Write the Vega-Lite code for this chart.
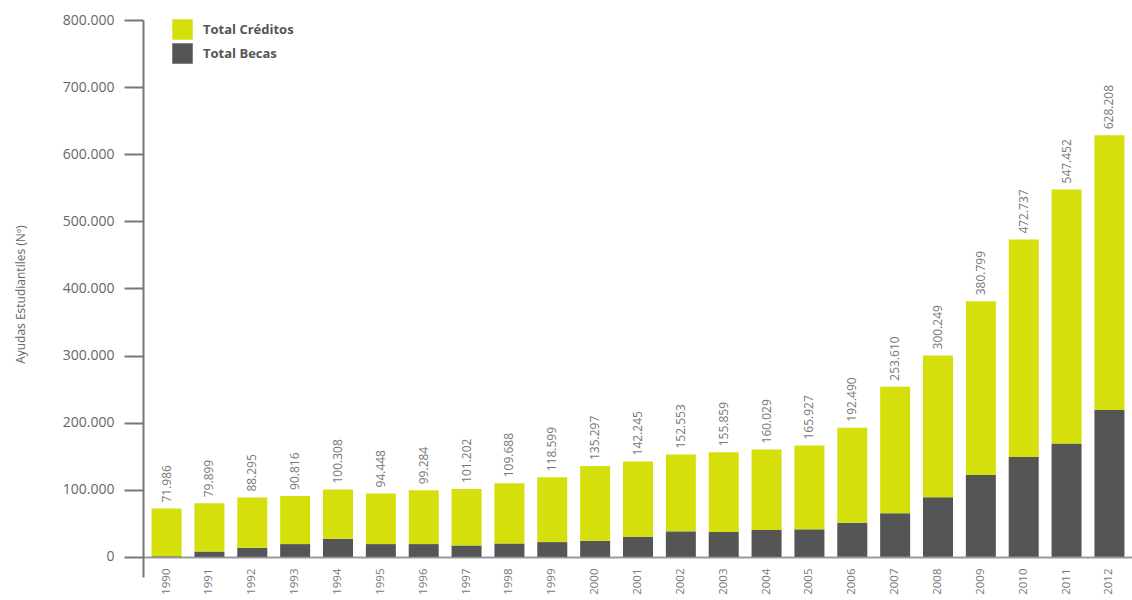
{
  "$schema": "https://vega.github.io/schema/vega-lite/v6.json",
  "width": 990,
  "height": 557,
  "autosize": {"type": "none"},
  "padding": {"left": 143, "top": 20, "right": 0, "bottom": 23},
  "background": "white",
  "config": {
    "locale": {"number": {"decimal": ",", "thousands": ".", "grouping": [3], "currency": ["", " €"]}},
    "view": {"stroke": null},
    "font": "Open Sans"
  },
  "datasets": {
    "ayudas": [
      {"anio": "1990", "serie": "Total Becas", "orden": 1, "valor": 1000},
      {"anio": "1990", "serie": "Total Créditos", "orden": 2, "valor": 70986},
      {"anio": "1991", "serie": "Total Becas", "orden": 1, "valor": 8000},
      {"anio": "1991", "serie": "Total Créditos", "orden": 2, "valor": 71899},
      {"anio": "1992", "serie": "Total Becas", "orden": 1, "valor": 13500},
      {"anio": "1992", "serie": "Total Créditos", "orden": 2, "valor": 74795},
      {"anio": "1993", "serie": "Total Becas", "orden": 1, "valor": 19000},
      {"anio": "1993", "serie": "Total Créditos", "orden": 2, "valor": 71816},
      {"anio": "1994", "serie": "Total Becas", "orden": 1, "valor": 27000},
      {"anio": "1994", "serie": "Total Créditos", "orden": 2, "valor": 73308},
      {"anio": "1995", "serie": "Total Becas", "orden": 1, "valor": 19000},
      {"anio": "1995", "serie": "Total Créditos", "orden": 2, "valor": 75448},
      {"anio": "1996", "serie": "Total Becas", "orden": 1, "valor": 19000},
      {"anio": "1996", "serie": "Total Créditos", "orden": 2, "valor": 80284},
      {"anio": "1997", "serie": "Total Becas", "orden": 1, "valor": 17000},
      {"anio": "1997", "serie": "Total Créditos", "orden": 2, "valor": 84202},
      {"anio": "1998", "serie": "Total Becas", "orden": 1, "valor": 20000},
      {"anio": "1998", "serie": "Total Créditos", "orden": 2, "valor": 89688},
      {"anio": "1999", "serie": "Total Becas", "orden": 1, "valor": 22000},
      {"anio": "1999", "serie": "Total Créditos", "orden": 2, "valor": 96599},
      {"anio": "2000", "serie": "Total Becas", "orden": 1, "valor": 24000},
      {"anio": "2000", "serie": "Total Créditos", "orden": 2, "valor": 111297},
      {"anio": "2001", "serie": "Total Becas", "orden": 1, "valor": 30000},
      {"anio": "2001", "serie": "Total Créditos", "orden": 2, "valor": 112245},
      {"anio": "2002", "serie": "Total Becas", "orden": 1, "valor": 38000},
      {"anio": "2002", "serie": "Total Créditos", "orden": 2, "valor": 114553},
      {"anio": "2003", "serie": "Total Becas", "orden": 1, "valor": 37000},
      {"anio": "2003", "serie": "Total Créditos", "orden": 2, "valor": 118859},
      {"anio": "2004", "serie": "Total Becas", "orden": 1, "valor": 40000},
      {"anio": "2004", "serie": "Total Créditos", "orden": 2, "valor": 120029},
      {"anio": "2005", "serie": "Total Becas", "orden": 1, "valor": 41000},
      {"anio": "2005", "serie": "Total Créditos", "orden": 2, "valor": 124927},
      {"anio": "2006", "serie": "Total Becas", "orden": 1, "valor": 51000},
      {"anio": "2006", "serie": "Total Créditos", "orden": 2, "valor": 141490},
      {"anio": "2007", "serie": "Total Becas", "orden": 1, "valor": 65000},
      {"anio": "2007", "serie": "Total Créditos", "orden": 2, "valor": 188610},
      {"anio": "2008", "serie": "Total Becas", "orden": 1, "valor": 89000},
      {"anio": "2008", "serie": "Total Créditos", "orden": 2, "valor": 211249},
      {"anio": "2009", "serie": "Total Becas", "orden": 1, "valor": 122000},
      {"anio": "2009", "serie": "Total Créditos", "orden": 2, "valor": 258799},
      {"anio": "2010", "serie": "Total Becas", "orden": 1, "valor": 149000},
      {"anio": "2010", "serie": "Total Créditos", "orden": 2, "valor": 323737},
      {"anio": "2011", "serie": "Total Becas", "orden": 1, "valor": 169000},
      {"anio": "2011", "serie": "Total Créditos", "orden": 2, "valor": 378452},
      {"anio": "2012", "serie": "Total Becas", "orden": 1, "valor": 219000},
      {"anio": "2012", "serie": "Total Créditos", "orden": 2, "valor": 409208}
    ],
    "totales": [
      {"anio": "1990", "total": 71986},
      {"anio": "1991", "total": 79899},
      {"anio": "1992", "total": 88295},
      {"anio": "1993", "total": 90816},
      {"anio": "1994", "total": 100308},
      {"anio": "1995", "total": 94448},
      {"anio": "1996", "total": 99284},
      {"anio": "1997", "total": 101202},
      {"anio": "1998", "total": 109688},
      {"anio": "1999", "total": 118599},
      {"anio": "2000", "total": 135297},
      {"anio": "2001", "total": 142245},
      {"anio": "2002", "total": 152553},
      {"anio": "2003", "total": 155859},
      {"anio": "2004", "total": 160029},
      {"anio": "2005", "total": 165927},
      {"anio": "2006", "total": 192490},
      {"anio": "2007", "total": 253610},
      {"anio": "2008", "total": 300249},
      {"anio": "2009", "total": 380799},
      {"anio": "2010", "total": 472737},
      {"anio": "2011", "total": 547452},
      {"anio": "2012", "total": 628208}
    ]
  },
  "encoding": {
    "x": {
      "field": "anio",
      "type": "ordinal",
      "scale": {"paddingInner": 0.3, "paddingOuter": 0.2},
      "axis": {
        "title": null,
        "labelAngle": -90,
        "labelFontSize": 11.5,
        "labelColor": "#777777",
        "labelPadding": 11,
        "ticks": false,
        "domainColor": "#999999",
        "domainWidth": 2,
        "offset": -20
      }
    }
  },
  "layer": [
    {
      "data": {"name": "ayudas"},
      "mark": {"type": "bar"},
      "encoding": {
        "y": {
          "field": "valor",
          "type": "quantitative",
          "stack": "zero",
          "scale": {"domain": [-30000, 800000], "nice": false, "zero": false},
          "axis": {
            "title": "Ayudas Estudiantiles (Nº)",
            "titleFontSize": 12,
            "titleFontWeight": "normal",
            "titleColor": "#666666",
            "titleX": -123,
            "titleY": 274,
            "titleBaseline": "middle",
            "values": [0, 100000, 200000, 300000, 400000, 500000, 600000, 700000, 800000],
            "format": ",d",
            "grid": false,
            "labelFontSize": 14,
            "labelColor": "#666666",
            "labelPadding": 10,
            "tickSize": 19,
            "tickWidth": 2,
            "tickColor": "#777777",
            "domainColor": "#777777",
            "domainWidth": 2
          }
        },
        "color": {
          "field": "serie",
          "type": "nominal",
          "scale": {"domain": ["Total Créditos", "Total Becas"], "range": ["#d5df0c", "#555555"]},
          "legend": {
            "title": null,
            "orient": "none",
            "legendX": 29,
            "legendY": -1,
            "symbolType": "square",
            "symbolSize": 420,
            "symbolStrokeWidth": 0,
            "labelFontSize": 13,
            "labelFontWeight": "bold",
            "labelColor": "#555555",
            "rowPadding": 3,
            "labelOffset": 10
          }
        },
        "order": {"field": "orden", "type": "quantitative"}
      }
    },
    {
      "data": {"name": "totales"},
      "mark": {"type": "text", "angle": 270, "align": "left", "baseline": "middle", "dx": 6, "fontSize": 12, "color": "#777777"},
      "encoding": {
        "y": {"field": "total", "type": "quantitative"},
        "text": {"field": "total", "type": "quantitative", "format": ",d"}
      }
    }
  ]
}
